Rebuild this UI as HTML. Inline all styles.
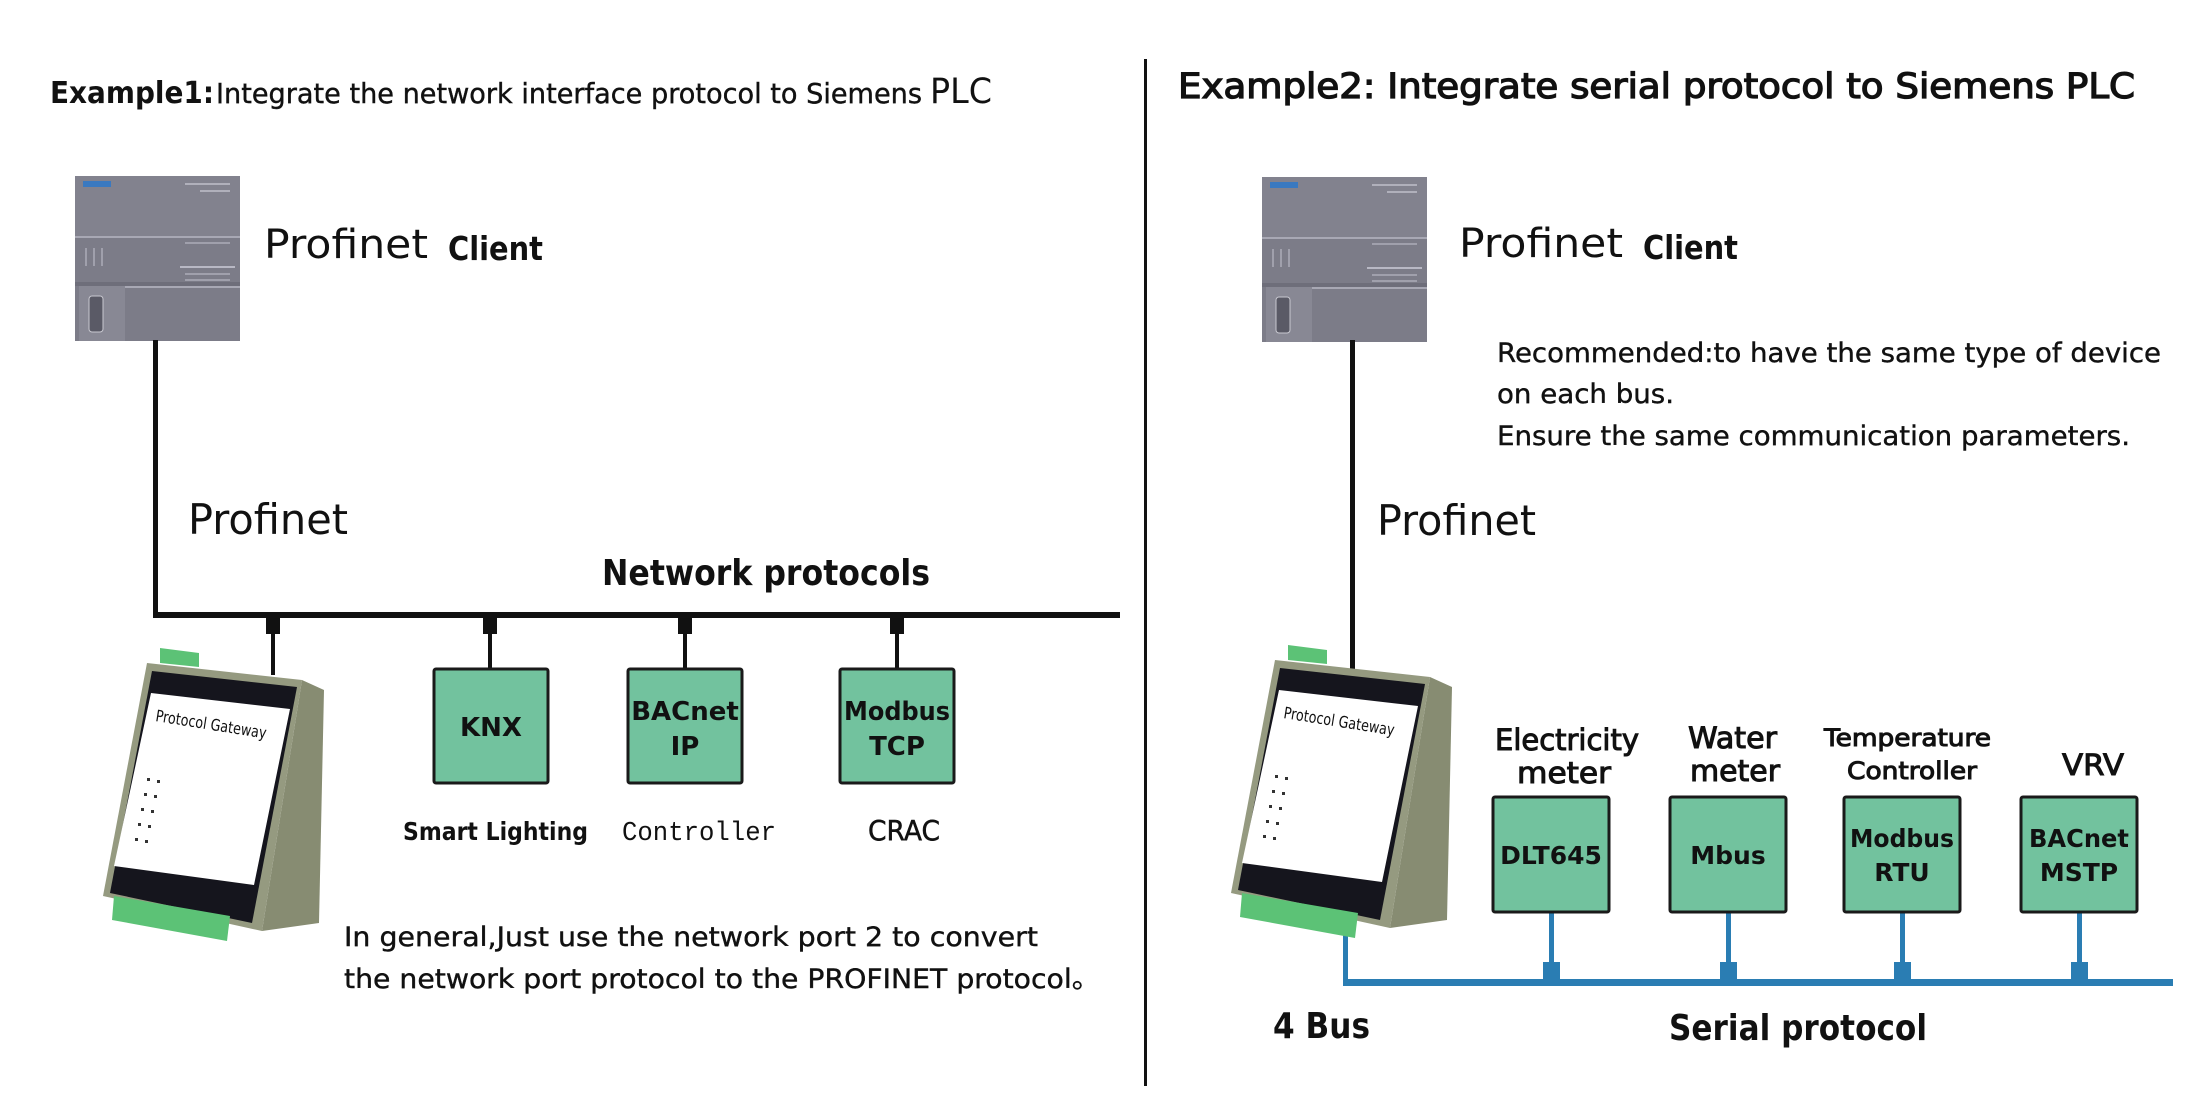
<!DOCTYPE html>
<html><head><meta charset="utf-8"><style>
html,body{margin:0;padding:0;background:#fff;width:2200px;height:1100px;overflow:hidden}
svg{display:block}
text{font-family:"DejaVu Sans","Liberation Sans",sans-serif;fill:#111}
.b{font-weight:bold}
</style></head><body>
<svg width="2200" height="1100" viewBox="0 0 2200 1100" xmlns="http://www.w3.org/2000/svg">
<defs>
<g id="plc">
  <rect x="0" y="0" width="165" height="165" fill="#7c7c88"/>
  <rect x="0" y="0" width="165" height="60" fill="#82828e"/>
  <rect x="0" y="60" width="165" height="2" fill="#a8a8b4"/>
  <rect x="50" y="110" width="115" height="2" fill="#a8a8b4"/>
  <rect x="0" y="106" width="165" height="4" fill="#6e6e7a"/>
  <rect x="4" y="110" width="46" height="55" fill="#888894"/>
  <rect x="14" y="120" width="14" height="36" rx="3" fill="#5a5a66" stroke="#c8c8d0" stroke-width="1"/>
  <rect x="8" y="5" width="28" height="6" fill="#3a79c0"/>
  <rect x="110" y="7" width="45" height="2" fill="#b0b0bb"/>
  <rect x="125" y="14" width="30" height="2" fill="#b0b0bb"/>
  <rect x="10" y="72" width="2" height="18" fill="#a0a0ac"/>
  <rect x="18" y="72" width="2" height="18" fill="#a0a0ac"/>
  <rect x="26" y="72" width="2" height="18" fill="#a0a0ac"/>
  <rect x="110" y="66" width="45" height="2" fill="#a0a0ac"/>
  <rect x="105" y="90" width="55" height="2" fill="#b8b8c4"/>
  <rect x="110" y="97" width="45" height="2" fill="#a0a0ac"/>
  <rect x="110" y="103" width="45" height="2" fill="#a0a0ac"/>
</g>
<g id="gw">
  <polygon points="1288,645 1327,650 1327,664 1288,660" fill="#5cc276"/>
  <polygon points="1430,677 1452,687 1447,920 1390,928" fill="#878c72"/>
  <polygon points="1275,660 1430,677 1390,928 1231,893" fill="#959a80"/>
  <polygon points="1280,668 1425,684 1380,920 1238,890" fill="#15151d"/>
  <polygon points="1279,690 1418,706 1382,882 1242,863" fill="#ffffff"/>
  <polygon points="1242,893 1358,913 1355,938 1240,917" fill="#5cc276"/>
  <text x="0" y="0" font-size="16" font-family="Liberation Sans,sans-serif" transform="translate(1283,718) rotate(9)" textLength="112" lengthAdjust="spacingAndGlyphs">Protocol Gateway</text>
  <g fill="#333">
    <rect x="1275" y="775" width="3" height="3"/><rect x="1285" y="777" width="3" height="3"/>
    <rect x="1272" y="790" width="3" height="3"/><rect x="1282" y="792" width="3" height="3"/>
    <rect x="1269" y="805" width="3" height="3"/><rect x="1279" y="807" width="3" height="3"/>
    <rect x="1266" y="820" width="3" height="3"/><rect x="1276" y="822" width="3" height="3"/>
    <rect x="1263" y="835" width="3" height="3"/><rect x="1273" y="837" width="3" height="3"/>
  </g>
</g>
</defs>

<rect x="1144" y="59" width="3" height="1027" fill="#111"/>

<text x="50" y="103" font-size="30" class="b" textLength="164" lengthAdjust="spacingAndGlyphs">Example1:</text>
<text x="216" y="103" font-size="28" stroke="#111" stroke-width="0.4" textLength="706" lengthAdjust="spacingAndGlyphs">Integrate the network interface protocol to Siemens</text>
<text x="930" y="103" font-size="35" textLength="62" lengthAdjust="spacingAndGlyphs">PLC</text>
<text x="1178" y="98" font-size="35" stroke="#111" stroke-width="1.3" textLength="957" lengthAdjust="spacingAndGlyphs">Example2:  Integrate serial protocol to Siemens PLC</text>

<use href="#plc" x="75" y="176"/>
<use href="#plc" x="1262" y="177"/>

<text x="264" y="258" font-size="40" textLength="164" lengthAdjust="spacingAndGlyphs">Profinet</text>
<text x="448" y="260" font-size="33" class="b" textLength="95" lengthAdjust="spacingAndGlyphs">Client</text>
<text x="1459" y="257" font-size="40" textLength="164" lengthAdjust="spacingAndGlyphs">Profinet</text>
<text x="1643" y="259" font-size="33" class="b" textLength="95" lengthAdjust="spacingAndGlyphs">Client</text>

<rect x="153" y="340" width="5" height="278" fill="#111"/>
<rect x="153" y="612" width="967" height="6" fill="#111"/>
<g fill="#111">
  <rect x="266" y="616" width="14" height="18"/><rect x="271" y="630" width="4" height="45"/>
  <rect x="483" y="616" width="14" height="18"/><rect x="488" y="630" width="4" height="38"/>
  <rect x="678" y="616" width="14" height="18"/><rect x="683" y="630" width="4" height="38"/>
  <rect x="890" y="616" width="14" height="18"/><rect x="895" y="630" width="4" height="38"/>
</g>

<text x="188" y="534" font-size="42" textLength="160" lengthAdjust="spacingAndGlyphs">Profinet</text>
<text x="602" y="585" font-size="36" class="b" textLength="328" lengthAdjust="spacingAndGlyphs">Network protocols</text>

<g fill="#72c29e" stroke="#1a1a1a" stroke-width="3">
  <rect x="434" y="669" width="114" height="114" rx="2"/>
  <rect x="628" y="669" width="114" height="114" rx="2"/>
  <rect x="840" y="669" width="114" height="114" rx="2"/>
</g>
<g font-size="26" class="b" text-anchor="middle">
  <text x="491" y="736">KNX</text>
  <text x="685" y="720">BACnet</text><text x="685" y="755">IP</text>
  <text x="897" y="720" textLength="106" lengthAdjust="spacingAndGlyphs">Modbus</text><text x="897" y="755">TCP</text>
</g>
<text x="403" y="840" font-size="25" class="b" textLength="185" lengthAdjust="spacingAndGlyphs">Smart Lighting</text>
<text x="622" y="840" font-size="27" style="font-family:'Liberation Mono',monospace" textLength="154" lengthAdjust="spacingAndGlyphs">Controller</text>
<text x="868" y="840" font-size="28" stroke="#111" stroke-width="0.5" textLength="72" lengthAdjust="spacingAndGlyphs">CRAC</text>

<text x="344" y="946" font-size="27" stroke="#111" stroke-width="0.4" textLength="694" lengthAdjust="spacingAndGlyphs">In general,Just use the network port 2 to convert</text>
<text x="344" y="988" font-size="27" stroke="#111" stroke-width="0.4" textLength="756" lengthAdjust="spacingAndGlyphs">the network port protocol to the PROFINET protocol。</text>

<use href="#gw" x="-1128" y="3"/>

<text x="1497" y="362" font-size="27" stroke="#111" stroke-width="0.4" textLength="664" lengthAdjust="spacingAndGlyphs">Recommended:to have the same type of device</text>
<text x="1497" y="403" font-size="27" stroke="#111" stroke-width="0.4" textLength="177" lengthAdjust="spacingAndGlyphs">on each bus.</text>
<text x="1497" y="445" font-size="27" stroke="#111" stroke-width="0.4" textLength="633" lengthAdjust="spacingAndGlyphs">Ensure the same communication parameters.</text>
<text x="1377" y="535" font-size="42" textLength="159" lengthAdjust="spacingAndGlyphs">Profinet</text>

<rect x="1350" y="340" width="5" height="330" fill="#111"/>

<g fill="#2a7db3">
  <rect x="1343" y="918" width="5" height="66"/>
  <rect x="1343" y="979" width="830" height="7"/>
  <rect x="1549" y="912" width="5" height="55"/><rect x="1543" y="962" width="17" height="20"/>
  <rect x="1726" y="912" width="5" height="55"/><rect x="1720" y="962" width="17" height="20"/>
  <rect x="1900" y="912" width="5" height="55"/><rect x="1894" y="962" width="17" height="20"/>
  <rect x="2077" y="912" width="5" height="55"/><rect x="2071" y="962" width="17" height="20"/>
</g>

<use href="#gw" x="0" y="0"/>

<g fill="#72c29e" stroke="#1a1a1a" stroke-width="3">
  <rect x="1493" y="797" width="116" height="115" rx="2"/>
  <rect x="1670" y="797" width="116" height="115" rx="2"/>
  <rect x="1844" y="797" width="116" height="115" rx="2"/>
  <rect x="2021" y="797" width="116" height="115" rx="2"/>
</g>
<g font-size="25" class="b" text-anchor="middle">
  <text x="1551" y="864">DLT645</text>
  <text x="1728" y="864">Mbus</text>
  <text x="1902" y="847" textLength="104" lengthAdjust="spacingAndGlyphs">Modbus</text><text x="1902" y="881">RTU</text>
  <text x="2079" y="847" textLength="100" lengthAdjust="spacingAndGlyphs">BACnet</text><text x="2079" y="881">MSTP</text>
</g>
<g stroke="#111" stroke-width="1">
<text x="1495" y="750" font-size="29" textLength="144" lengthAdjust="spacingAndGlyphs">Electricity</text>
<text x="1517" y="783" font-size="29" textLength="94" lengthAdjust="spacingAndGlyphs">meter</text>
<text x="1688" y="748" font-size="29" textLength="89" lengthAdjust="spacingAndGlyphs">Water</text>
<text x="1690" y="781" font-size="29" textLength="90" lengthAdjust="spacingAndGlyphs">meter</text>
<text x="1824" y="746" font-size="24" textLength="167" lengthAdjust="spacingAndGlyphs">Temperature</text>
<text x="1847" y="779" font-size="24" textLength="130" lengthAdjust="spacingAndGlyphs">Controller</text>
<text x="2062" y="775" font-size="29" textLength="62" lengthAdjust="spacingAndGlyphs">VRV</text>
</g>
<text x="1273" y="1038" font-size="36" class="b" textLength="97" lengthAdjust="spacingAndGlyphs">4 Bus</text>
<text x="1669" y="1040" font-size="36" class="b" textLength="258" lengthAdjust="spacingAndGlyphs">Serial protocol</text>
</svg>
</body></html>
